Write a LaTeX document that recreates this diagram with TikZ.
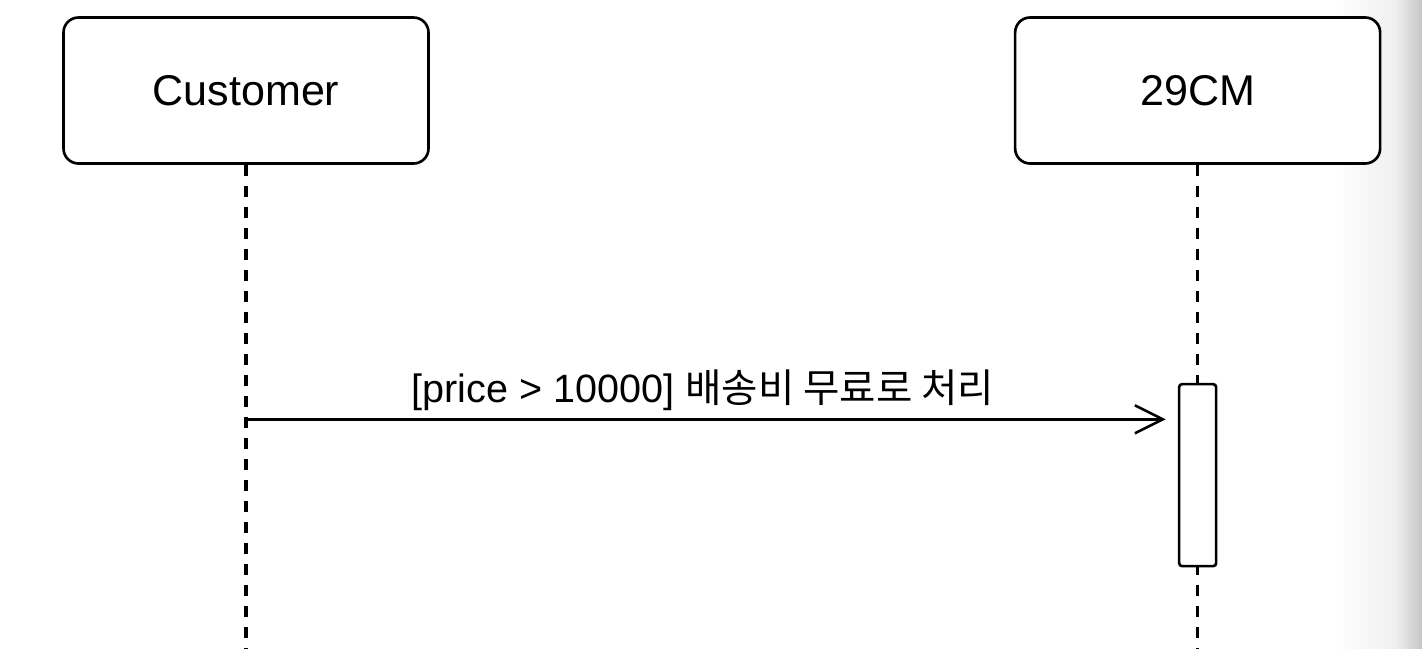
\documentclass[tikz,border=0pt]{standalone}
\usepackage{fontspec}
\setmainfont{Liberation Sans}
\newfontfamily\krfont{Noto Sans CJK KR}
\usepackage{tikz}
\usetikzlibrary{arrows.meta, positioning}
\tikzset{
    actor/.style={
        draw,
        fill=white,
        rounded corners=0.3cm,
        line width=1.5pt,
        minimum width=7.3cm,
        minimum height=2.92cm,
        font=\fontsize{24.5}{29}\selectfont
    },
    lifeline/.style={
        draw,
        line width=2pt,
        dash pattern=on 0.22cm off 0.2cm
    },
    activation/.style={
        draw,
        fill=white,
        rounded corners=0.06cm,
        line width=1.5pt,
        minimum width=0.74cm,
        minimum height=3.64cm,
        inner sep=0pt
    },
    every edge/.style={
        draw,
        -{Straight Barb[length=0.56cm,width=0.56cm]},
        line width=1.5pt
    }
}

\begin{document}
\begin{tikzpicture}[node distance=2cm]
	\useasboundingbox (0,0) rectangle (28.44,-12.96);
	\shade[left color=white, right color=gray!12] (26.66,0) rectangle (27.9,-12.96);
	\shade[left color=gray!12, right color=gray!45] (27.9,0) rectangle (28.44,-12.96);
	\node[actor] at (4.92,-1.81) (customer) {Customer};
	\node[actor, right=11.68cm of customer] (cm) {29CM};
	\coordinate[below=9.9cm of customer] (customer_end);
	\coordinate[below=9.9cm of cm] (cm_end);
	\draw[lifeline] (customer) -- (customer_end);
	\draw[lifeline] (cm) -- (cm_end);
	\node[activation, below=4.36cm of cm] (act) {};
	\coordinate[below=5.09cm of customer] (msg);
	\draw
	(msg) edge[shorten >=0.24cm] node[above=0.32cm, xshift=-0.18cm, inner sep=0pt, text depth=0pt, font=\fontsize{22.5}{27}\selectfont]{[price > 10000] {\krfont 배송비 무료로 처리}} (msg -| act.west);
\end{tikzpicture}
\end{document}
